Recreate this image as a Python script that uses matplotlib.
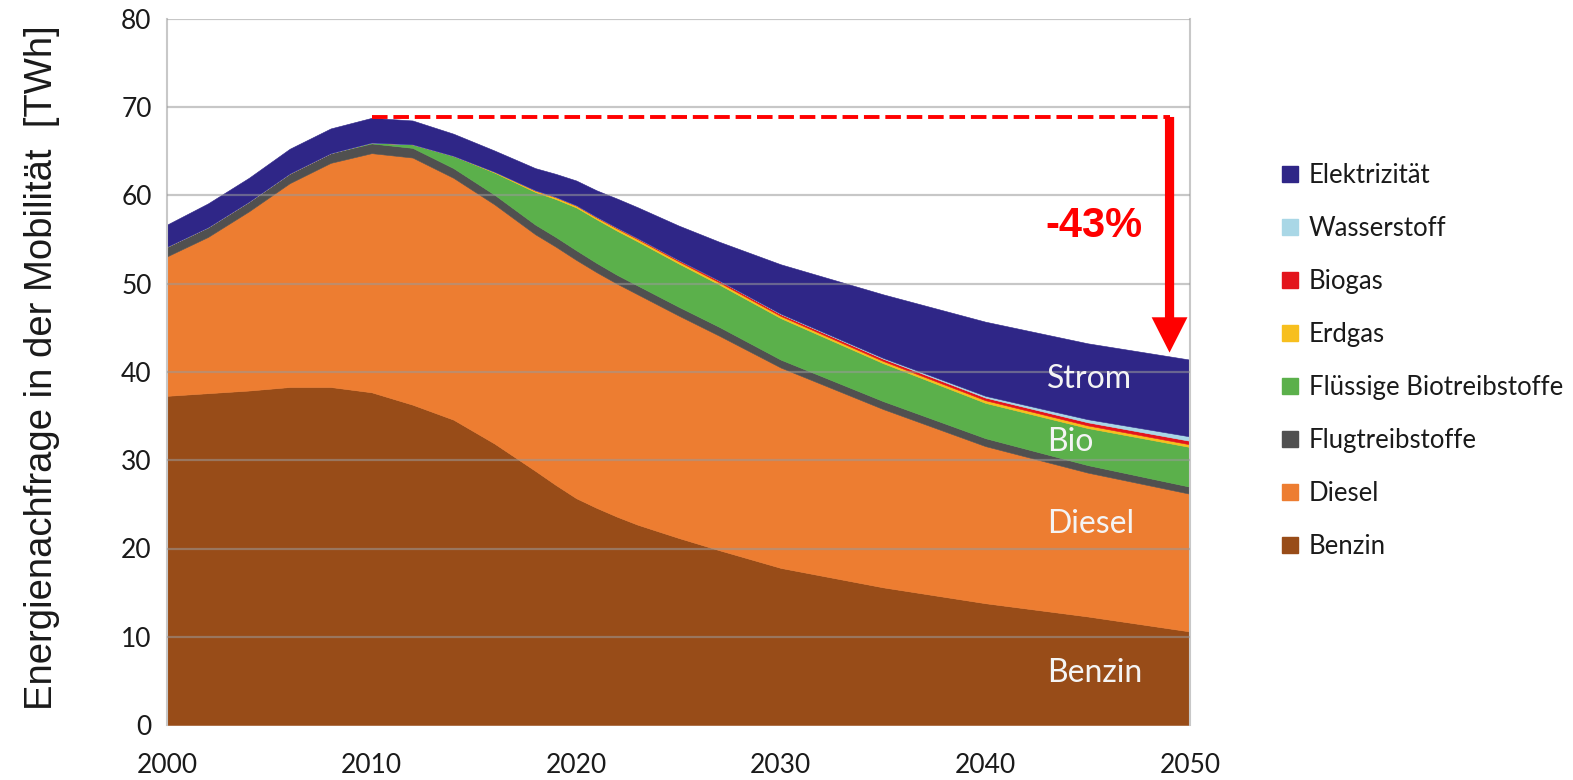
import matplotlib
matplotlib.use("Agg")
import matplotlib.pyplot as plt
from matplotlib.patches import Patch

years = [2000, 2002, 2004, 2006, 2008, 2010, 2012, 2014, 2016, 2018, 2019,
         2020, 2021, 2022, 2023, 2025, 2027, 2030, 2035, 2040, 2045, 2050]

benzin = [37.3, 37.6, 37.9, 38.3, 38.3, 37.7, 36.3, 34.6, 31.9, 28.8, 27.2,
          25.7, 24.6, 23.6, 22.7, 21.2, 19.8, 17.8, 15.6, 13.8, 12.3, 10.6]
diesel = [15.8, 17.7, 20.3, 23.1, 25.4, 27.1, 28.0, 27.4, 27.1, 26.8, 27.0,
          27.0, 26.7, 26.4, 26.1, 25.2, 24.3, 22.7, 20.2, 17.8, 16.3, 15.6]
flug = [1.1, 1.1, 1.1, 1.1, 1.1, 1.1, 1.1, 1.1, 1.1, 1.1, 1.1,
        1.1, 1.05, 1.0, 1.0, 1.0, 1.0, 0.9, 0.9, 0.9, 0.85, 0.8]
bio = [0, 0, 0, 0, 0, 0.1, 0.4, 1.4, 2.5, 3.7, 4.3,
       4.85, 4.95, 5.0, 5.0, 4.9, 4.8, 4.7, 4.3, 4.0, 4.2, 4.5]
erdgas = [0, 0, 0, 0, 0, 0, 0, 0, 0.1, 0.15, 0.2,
          0.2, 0.2, 0.25, 0.25, 0.25, 0.25, 0.25, 0.25, 0.3, 0.3, 0.3]
biogas = [0, 0, 0, 0, 0, 0, 0, 0, 0, 0.05, 0.05,
          0.05, 0.08, 0.1, 0.12, 0.15, 0.2, 0.2, 0.25, 0.3, 0.35, 0.4]
wasserstoff = [0, 0, 0, 0, 0, 0, 0, 0, 0, 0, 0,
               0, 0, 0, 0, 0, 0, 0.05, 0.1, 0.2, 0.35, 0.5]
elektrizitaet = [2.5, 2.7, 2.7, 2.8, 2.8, 2.8, 2.7, 2.5, 2.4, 2.5, 2.6,
                 2.8, 3.0, 3.3, 3.5, 3.9, 4.4, 5.6, 7.2, 8.4, 8.6, 8.7]

labels = ["Benzin", "Diesel", "Flugtreibstoffe", "Flüssige Biotreibstoffe",
          "Erdgas", "Biogas", "Wasserstoff", "Elektrizität"]
colors = ["#984c18", "#ed7d31", "#505050", "#5bb04b",
          "#f7bf1e", "#e3141c", "#a9d7e6", "#2f2687"]

yticks = [0, 10, 20, 30, 40, 50, 60, 70, 80]
xticks = [2000, 2010, 2020, 2030, 2040, 2050]

peak_value = 68.9
end_value = 41.4
reduction_label = "-43%"

W, H = 1573, 780
fig = plt.figure(figsize=(W / 100, H / 100), dpi=100)
ax = fig.add_axes([167 / W, 1 - 725 / H, (1190 - 167) / W, (725 - 19) / H])

tick_font = "Lato"

polys = ax.stackplot(years, benzin, diesel, flug, bio, erdgas, biogas,
                     wasserstoff, elektrizitaet, colors=colors, labels=labels,
                     zorder=2)
for p, c in zip(polys, colors):
    p.set_edgecolor(c)
    p.set_linewidth(0.4)

ax.set_xlim(2000, 2050)
ax.set_ylim(0, 80)
ax.set_yticks(yticks)
ax.set_xticks(xticks)
for y in yticks[1:]:
    ax.axhline(y, color="#9a9a9a", lw=1.6, alpha=0.55, zorder=3)

for side in ["left", "right"]:
    ax.spines[side].set_color("#c8c8c8")
    ax.spines[side].set_linewidth(1.5)
ax.spines["top"].set_visible(False)
ax.spines["bottom"].set_visible(False)
ax.tick_params(axis="both", length=0, labelsize=19, colors="#1a1a1a")
ax.tick_params(axis="y", pad=11)
ax.tick_params(axis="x", pad=20)
for lab in ax.get_xticklabels() + ax.get_yticklabels():
    lab.set_fontfamily(tick_font)

fig.text(42 / W, 1 - 368 / H, "Energienachfrage in der Mobilität  [TWh]",
         rotation=90, ha="center", va="center", fontsize=27.5,
         family=["Liberation Sans Narrow", "Liberation Sans"], color="#1a1a1a")

# in-chart labels
for txt, yv in [("Strom", 39.2), ("Bio", 32.1), ("Diesel", 22.8), ("Benzin", 5.9)]:
    ax.text(2043.0, yv, txt, color="#f4f4f4", fontsize=23, family=tick_font,
            ha="left", va="center", zorder=5)

# reduction marker
ax.plot([2010, 2049.0], [peak_value, peak_value], color="#ff0000", lw=2.8,
        dashes=(4.0, 1.5), zorder=6)
ax.arrow(2049.0, peak_value, 0, end_value + 0.8 - peak_value, width=0.45,
         head_width=1.75, head_length=4.0, length_includes_head=True,
         color="#ff0000", lw=0, zorder=6)
ax.text(2045.3, 56.5, reduction_label, color="#ff0000", fontsize=30,
        fontweight="bold", family="Liberation Sans", ha="center", va="center",
        zorder=6)

handles = [Patch(facecolor=c, edgecolor=c) for c in colors][::-1]
leg = ax.legend(handles, labels[::-1], loc="upper left",
                bbox_to_anchor=(1282 / W, 1 - 163 / H),
                bbox_transform=fig.transFigure, frameon=False,
                prop={"family": tick_font, "size": 18.5},
                handlelength=0.63, handleheight=0.63, handletextpad=0.42,
                labelspacing=1.09, borderpad=0, borderaxespad=0)
for t in leg.get_texts():
    t.set_color("#1a1a1a")

fig.savefig("out.png", dpi=100)
